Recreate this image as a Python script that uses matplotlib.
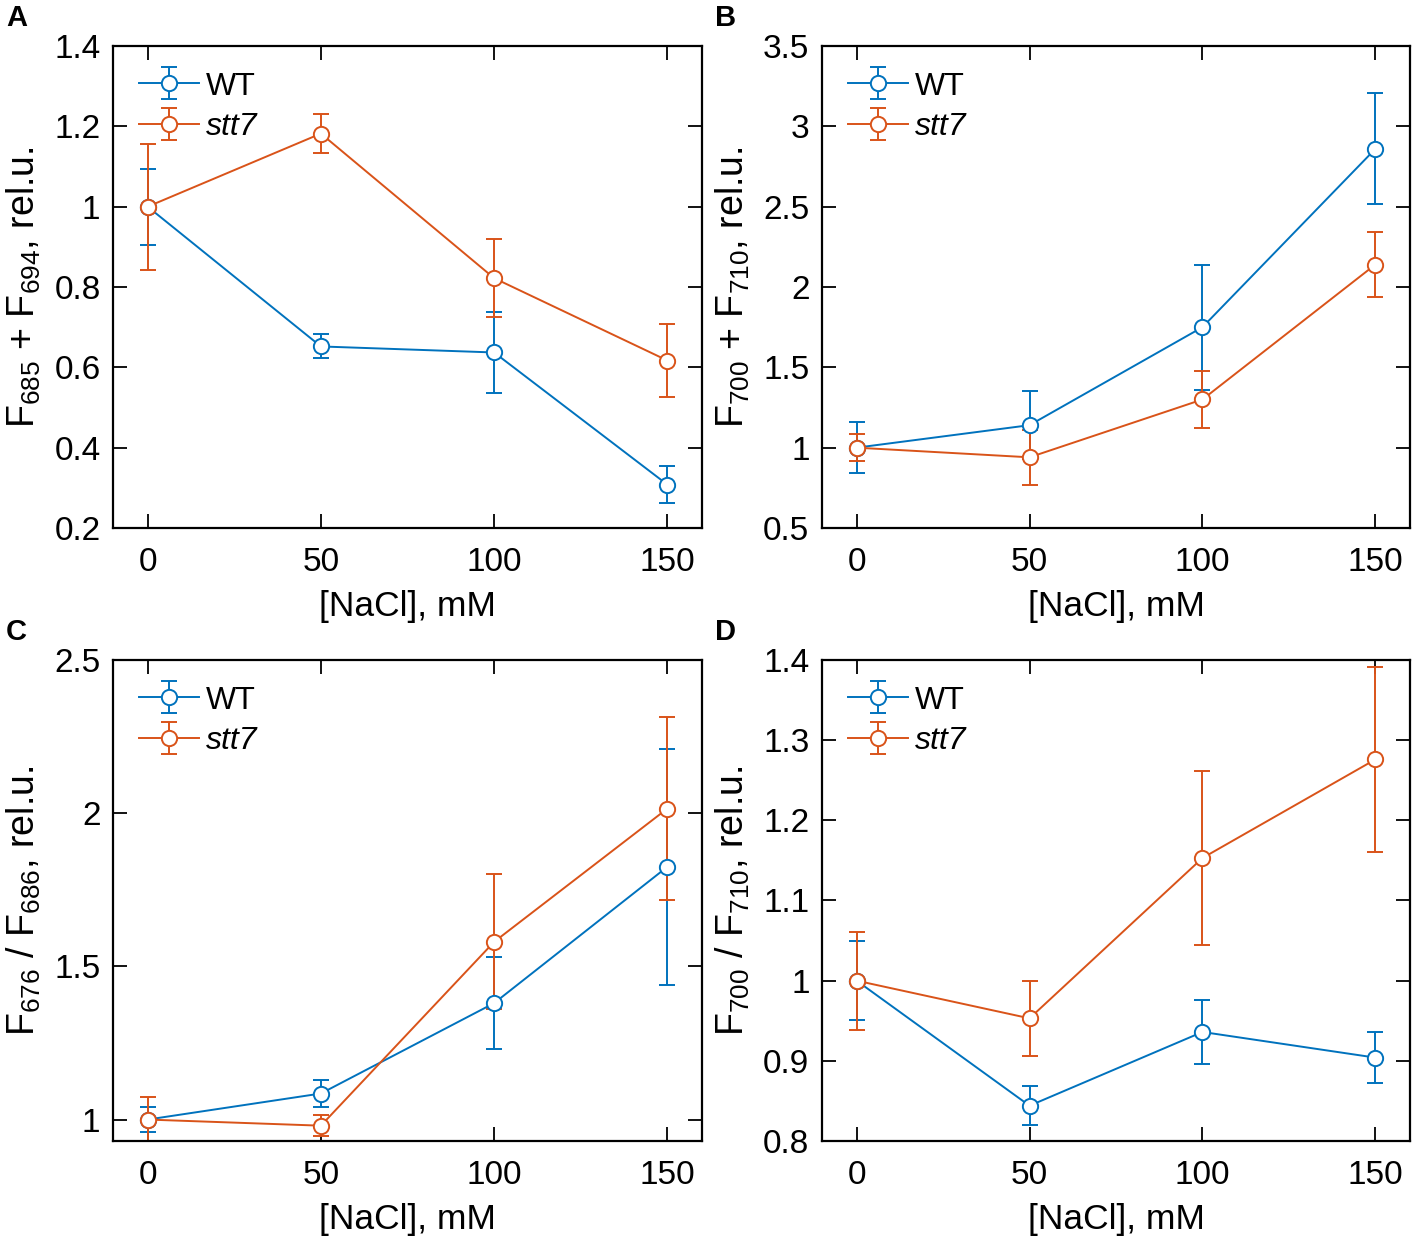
import numpy as np
import matplotlib
matplotlib.use("Agg")
import matplotlib.pyplot as plt
from matplotlib.ticker import FuncFormatter

plt.rcParams['font.family'] = ['Liberation Sans', 'DejaVu Sans']
plt.rcParams['mathtext.fontset'] = 'custom'
plt.rcParams['mathtext.rm'] = 'Liberation Sans'
plt.rcParams['mathtext.it'] = 'Liberation Sans:italic'
plt.rcParams['mathtext.default'] = 'regular'

nacl = [0, 50, 100, 150]

# panel A: F685 + F694
a_wt = [1.0, 0.652, 0.637, 0.308]
a_wt_err = [0.095, 0.03, 0.10, 0.046]
a_stt7 = [1.0, 1.182, 0.822, 0.617]
a_stt7_err = [0.157, 0.048, 0.097, 0.092]

# panel B: F700 + F710
b_wt = [1.0, 1.14, 1.75, 2.86]
b_wt_err = [0.16, 0.21, 0.39, 0.345]
b_stt7 = [1.0, 0.94, 1.30, 2.14]
b_stt7_err = [0.085, 0.17, 0.18, 0.20]

# panel C: F676 / F686
c_wt = [1.0, 1.085, 1.38, 1.825]
c_wt_err = [0.04, 0.045, 0.15, 0.385]
c_stt7 = [1.0, 0.98, 1.58, 2.015]
c_stt7_err = [0.075, 0.035, 0.22, 0.30]

# panel D: F700 / F710
d_wt = [1.0, 0.844, 0.936, 0.904]
d_wt_err = [0.049, 0.024, 0.04, 0.032]
d_stt7 = [1.0, 0.953, 1.153, 1.276]
d_stt7_err = [0.061, 0.047, 0.108, 0.115]

panels = [
    ('A', a_wt, a_wt_err, a_stt7, a_stt7_err, (0.2, 1.4), [0.2, 0.4, 0.6, 0.8, 1.0, 1.2, 1.4],
     r'F$_{685}$ + F$_{694}$, rel.u.'),
    ('B', b_wt, b_wt_err, b_stt7, b_stt7_err, (0.5, 3.5), [0.5, 1, 1.5, 2, 2.5, 3, 3.5],
     r'F$_{700}$ + F$_{710}$, rel.u.'),
    ('C', c_wt, c_wt_err, c_stt7, c_stt7_err, (0.93, 2.5), [1, 1.5, 2, 2.5],
     r'F$_{676}$ / F$_{686}$, rel.u.'),
    ('D', d_wt, d_wt_err, d_stt7, d_stt7_err, (0.8, 1.4), [0.8, 0.9, 1.0, 1.1, 1.2, 1.3, 1.4],
     r'F$_{700}$ / F$_{710}$, rel.u.'),
]

W, H = 1417, 1241
fig = plt.figure(figsize=(W / 100, H / 100), dpi=100)

blue = '#0072BD'
orange = '#D95319'

# axes boxes in pixels (left, top, right, bottom) and panel letter x
boxes = [(113, 46, 702, 528, 6), (822, 46, 1410, 528, 715),
         (113, 660, 702, 1141, 6), (822, 660, 1410, 1141, 715)]

for (letter, wt, wt_err, st, st_err, ylim, yticks, ylabel), (x0, y0, x1, y1, lx) in zip(panels, boxes):
    ax = fig.add_axes([x0 / W, 1 - y1 / H, (x1 - x0) / W, (y1 - y0) / H])
    style = dict(marker='o', markersize=11, markerfacecolor='white', markeredgewidth=1.4,
                 linewidth=1.4, capsize=6, elinewidth=1.4, capthick=1.6)
    ax.errorbar(nacl, wt, yerr=wt_err, color=blue, label='WT', **style)
    ax.errorbar(nacl, st, yerr=st_err, color=orange, label='stt7', **style)
    ax.set_xlim(-10, 160)
    ax.set_ylim(*ylim)
    ax.set_xticks(nacl)
    ax.set_yticks(yticks)
    ax.yaxis.set_major_formatter(FuncFormatter(lambda v, p: '%g' % v))
    ax.tick_params(direction='in', length=10, width=1.3, labelsize=24, top=True, right=True)
    ax.tick_params(axis='x', pad=14)
    ax.tick_params(axis='y', pad=9)
    for s in ax.spines.values():
        s.set_linewidth(1.6)
    ax.set_xlabel('[NaCl], mM', fontsize=25.5, labelpad=8)
    ax.set_ylabel(ylabel, fontsize=27, labelpad=8)
    leg = ax.legend(loc='upper left', frameon=False, fontsize=23, handlelength=1.9,
                    handletextpad=0.2, labelspacing=0.33, borderaxespad=0.5,
                    borderpad=0.3)
    leg.get_texts()[1].set_fontstyle('italic')
    fig.text(lx / W, 1 - (y0 - 28) / H, letter, fontsize=21, fontweight='bold',
             va='center', ha='left')

fig.savefig('out.png', dpi=100)
